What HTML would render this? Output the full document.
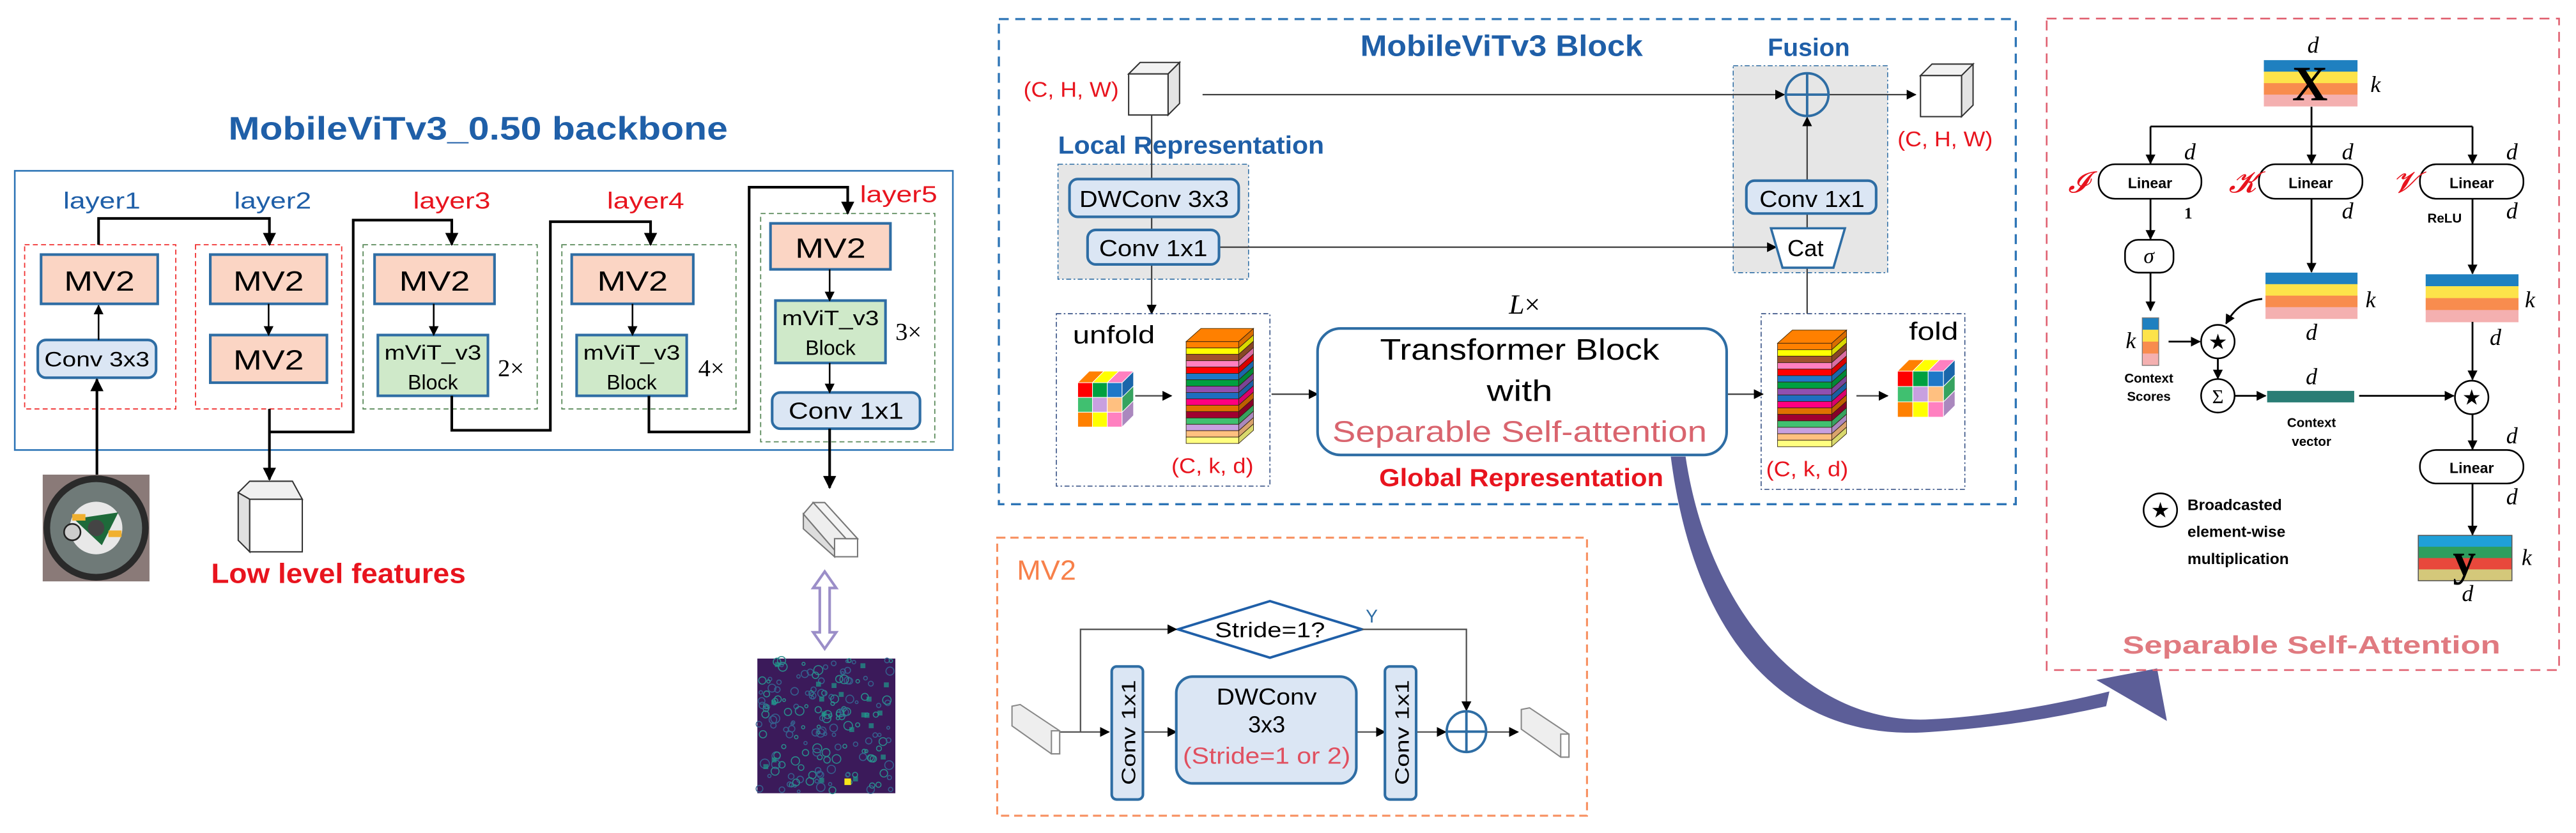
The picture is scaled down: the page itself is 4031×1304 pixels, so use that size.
<!DOCTYPE html>
<html><head><meta charset="utf-8"><style>
html,body{margin:0;padding:0;background:#fff;}
svg{display:block;}
</style></head><body>
<svg id="sv" width="4031" height="1304" viewBox="0 0 1568 507.2" xmlns="http://www.w3.org/2000/svg" font-family="Liberation Sans, sans-serif">
<defs>
<marker id="ah" viewBox="0 0 10 10" refX="9" refY="5" markerWidth="6" markerHeight="6" markerUnits="userSpaceOnUse" orient="auto"><path d="M0,0L10,5L0,10z" fill="#000"/></marker>
<marker id="ah2" viewBox="0 0 10 10" refX="9" refY="5" markerWidth="8" markerHeight="8" markerUnits="userSpaceOnUse" orient="auto"><path d="M0,0L10,5L0,10z" fill="#000"/></marker>
</defs>
<rect width="1568" height="508" fill="#fff"/>

<!-- ============ LEFT: backbone ============ -->
<text x="291" y="85" font-size="20" font-weight="bold" fill="#1f5fa8" text-anchor="middle" textLength="304" lengthAdjust="spacingAndGlyphs">MobileViTv3_0.50 backbone</text>
<rect x="9" y="104" width="571" height="170" fill="none" stroke="#2e75b6" stroke-width="1"/>
<g font-size="14" text-anchor="middle">
<text x="62" y="127" fill="#1f5fa8" textLength="47" lengthAdjust="spacingAndGlyphs">layer1</text>
<text x="166" y="127" fill="#1f5fa8" textLength="47" lengthAdjust="spacingAndGlyphs">layer2</text>
<text x="275" y="127" fill="#e8141e" textLength="47" lengthAdjust="spacingAndGlyphs">layer3</text>
<text x="393" y="127" fill="#e8141e" textLength="47" lengthAdjust="spacingAndGlyphs">layer4</text>
<text x="547" y="123" fill="#e8141e" textLength="47" lengthAdjust="spacingAndGlyphs">layer5</text>
</g>
<g fill="none" stroke-width="0.7" stroke-dasharray="3,2">
<rect x="15" y="149" width="92" height="100" stroke="#f03030"/>
<rect x="119" y="149" width="89" height="100" stroke="#f03030"/>
<rect x="221" y="149" width="106" height="100" stroke="#5a8a5a"/>
<rect x="342" y="149" width="106" height="100" stroke="#5a8a5a"/>
<rect x="463" y="130" width="106" height="139" stroke="#5a8a5a"/>
</g>
<g stroke="#2e6da4" stroke-width="1.6">
<rect x="25" y="155" width="71" height="30" fill="#fbd5c4"/>
<rect x="128" y="155" width="71" height="30" fill="#fbd5c4"/>
<rect x="128" y="204" width="71" height="29" fill="#fbd5c4"/>
<rect x="228" y="155" width="73" height="30" fill="#fbd5c4"/>
<rect x="348" y="155" width="74" height="30" fill="#fbd5c4"/>
<rect x="469" y="136" width="73" height="28" fill="#fbd5c4"/>
<rect x="230" y="204" width="67" height="37" fill="#cfe9c9"/>
<rect x="351" y="204" width="67" height="37" fill="#cfe9c9"/>
<rect x="472" y="183" width="67" height="38" fill="#cfe9c9"/>
<rect x="23" y="207" width="72" height="23" rx="5" fill="#dbe6f4"/>
<rect x="470" y="239" width="90" height="22" rx="5" fill="#dbe6f4"/>
</g>
<g font-size="17" text-anchor="middle" fill="#000">
<text x="60.5" y="177" textLength="43" lengthAdjust="spacingAndGlyphs">MV2</text>
<text x="163.5" y="177" textLength="43" lengthAdjust="spacingAndGlyphs">MV2</text>
<text x="163.5" y="225" textLength="43" lengthAdjust="spacingAndGlyphs">MV2</text>
<text x="264.5" y="177" textLength="43" lengthAdjust="spacingAndGlyphs">MV2</text>
<text x="385" y="177" textLength="43" lengthAdjust="spacingAndGlyphs">MV2</text>
<text x="505.5" y="157" textLength="43" lengthAdjust="spacingAndGlyphs">MV2</text>
</g>
<g font-size="12.5" text-anchor="middle" fill="#000">
<text x="59" y="223" textLength="64" lengthAdjust="spacingAndGlyphs">Conv 3x3</text>
<text x="515" y="255" font-size="14" textLength="70" lengthAdjust="spacingAndGlyphs">Conv 1x1</text>
<text x="263.5" y="219" textLength="59" lengthAdjust="spacingAndGlyphs">mViT_v3</text>
<text x="263.5" y="237">Block</text>
<text x="384.5" y="219" textLength="59" lengthAdjust="spacingAndGlyphs">mViT_v3</text>
<text x="384.5" y="237">Block</text>
<text x="505.5" y="198" textLength="59" lengthAdjust="spacingAndGlyphs">mViT_v3</text>
<text x="505.5" y="216">Block</text>
</g>
<g font-size="15" fill="#000" font-family="Liberation Serif, serif">
<text x="303" y="229">2×</text>
<text x="425" y="229">4×</text>
<text x="545" y="207">3×</text>
</g>
<!-- internal arrows -->
<g stroke="#000" stroke-width="1" marker-end="url(#ah)">
<line x1="60" y1="207" x2="60" y2="186"/>
<line x1="163.5" y1="185" x2="163.5" y2="204"/>
<line x1="264" y1="185" x2="264" y2="204"/>
<line x1="385" y1="185" x2="385" y2="204"/>
<line x1="505" y1="164" x2="505" y2="183"/>
<line x1="505" y1="221" x2="505" y2="239"/>
</g>
<g stroke="#000" stroke-width="1.6" fill="none" marker-end="url(#ah2)">
<line x1="59" y1="289" x2="59" y2="231"/>
<polyline points="60,149 60,133 164,133 164,149"/>
<polyline points="164,263 215,263 215,134 275,134 275,149"/>
<line x1="164" y1="249" x2="164" y2="292"/>
<polyline points="275,241 275,262 335,262 335,135 396,135 396,149"/>
<polyline points="395,241 395,263 456,263 456,114 516,114 516,130"/>
<line x1="505" y1="261" x2="505" y2="297"/>
</g>
<!-- photo -->
<rect x="26" y="289" width="65" height="65" fill="#8a7a78"/>
<circle cx="58.5" cy="321.5" r="32" fill="#2a2a2a"/>
<circle cx="58.5" cy="321.5" r="28" fill="#6f7a78"/>
<circle cx="58.5" cy="321.5" r="16" fill="#e8e8e8"/>
<path d="M45,316 L72,312 L62,332 Z" fill="#1e6a3a"/>
<rect x="44" y="313" width="8" height="4" fill="#f0b030"/>
<rect x="66" y="323" width="8" height="4" fill="#f0b030"/>
<circle cx="58.5" cy="321.5" r="5" fill="#444"/>
<circle cx="44" cy="324" r="5" fill="#ccc" stroke="#222" stroke-width="1"/>
<!-- low-level cube -->
<g stroke="#333" stroke-width="0.8" fill="#fff">
<polygon points="145,300 152,293 178,293 184,304 152,304" fill="#f0f0f0"/>
<polygon points="145,300 152,304 152,336 145,329" fill="#e0e0e0"/>
<rect x="152" y="304" width="32" height="32" fill="#fff"/>
</g>
<text x="206" y="355" font-size="17" font-weight="bold" fill="#e8141e" text-anchor="middle" textLength="155" lengthAdjust="spacingAndGlyphs">Low level features</text>
<!-- layer5 output prism -->
<g stroke="#777" stroke-width="0.8">
<polygon points="489,313 495,306 515,328 508,335" fill="#eee"/>
<polygon points="489,313 508,335 508,339 489,322" fill="#ddd"/>
<rect x="508" y="328" width="14" height="11" fill="#fff"/>
<polygon points="495,306 502,306 522,328 515,328" fill="#f5f5f5"/>
</g>
<!-- double arrow -->
<path d="M502,348 L509,358 L505,358 L505,385 L509,385 L502,395 L495,385 L499,385 L499,358 L495,358 Z" fill="#fff" stroke="#9b8ec8" stroke-width="1.6"/>
<!-- heatmap -->
<rect x="461" y="401" width="84" height="82" fill="#3b1a5a"/>
<g id="heat"></g>
<rect x="514" y="474" width="4" height="4" fill="#f8e51a"/>

<!-- ============ MIDDLE: MobileViTv3 Block ============ -->
<rect x="608" y="11.6" width="619" height="295.4" fill="none" stroke="#2e75b6" stroke-width="1.3" stroke-dasharray="6,4"/>
<text x="914" y="34" font-size="18" font-weight="bold" fill="#1f5fa8" text-anchor="middle" textLength="172" lengthAdjust="spacingAndGlyphs">MobileViTv3 Block</text>
<text x="1101" y="34" font-size="15" font-weight="bold" fill="#1f5fa8" text-anchor="middle" textLength="50" lengthAdjust="spacingAndGlyphs">Fusion</text>
<text x="652" y="59" font-size="13" fill="#e8141e" text-anchor="middle" textLength="58" lengthAdjust="spacingAndGlyphs">(C, H, W)</text>
<text x="1184" y="89" font-size="13" fill="#e8141e" text-anchor="middle" textLength="58" lengthAdjust="spacingAndGlyphs">(C, H, W)</text>
<text x="725" y="93.5" font-size="15" font-weight="bold" fill="#1f5fa8" text-anchor="middle" textLength="162" lengthAdjust="spacingAndGlyphs">Local Representation</text>
<rect x="644" y="100" width="116" height="70" fill="#e6e6e6" stroke="#2e6da4" stroke-width="0.6" stroke-dasharray="3,1.5,1,1.5"/>
<rect x="1055" y="40" width="94" height="126" fill="#e6e6e6" stroke="#2e6da4" stroke-width="0.6" stroke-dasharray="3,1.5,1,1.5"/>
<g stroke="#333" stroke-width="0.8">
<polygon points="687,45 694,38 718,38 711,45" fill="#f2f2f2"/>
<polygon points="711,45 718,38 718,63 711,70" fill="#e4e4e4"/>
<rect x="687" y="45" width="24" height="25" fill="#fff"/>
<polygon points="1169,46 1176,39 1201,39 1194,46" fill="#f2f2f2"/>
<polygon points="1194,46 1201,39 1201,64 1194,71" fill="#e4e4e4"/>
<rect x="1169" y="46" width="25" height="25" fill="#fff"/>
</g>
<g stroke="#444" stroke-width="0.9" fill="none">
<line x1="732" y1="57.6" x2="1086" y2="57.6" marker-end="url(#ah)"/>
<line x1="1113" y1="57.6" x2="1166" y2="57.6" marker-end="url(#ah)"/>
<line x1="701" y1="70" x2="701" y2="191" marker-end="url(#ah)"/>
<line x1="742" y1="150.5" x2="1081" y2="150.5" marker-end="url(#ah)"/>
<line x1="1100" y1="110" x2="1100" y2="71.5" marker-end="url(#ah)"/>
<line x1="1100" y1="130" x2="1100" y2="139"/>
<line x1="1100" y1="163" x2="1100" y2="191"/>
</g>
<circle cx="1100" cy="57.6" r="13" fill="none" stroke="#2e6da4" stroke-width="1.5"/>
<line x1="1087" y1="57.6" x2="1113" y2="57.6" stroke="#2e6da4" stroke-width="1.5"/>
<line x1="1100" y1="44.6" x2="1100" y2="70.6" stroke="#2e6da4" stroke-width="1.5"/>
<g stroke="#2e6da4" stroke-width="1.6" fill="#dbe6f4">
<rect x="651" y="109" width="103" height="23" rx="5"/>
<rect x="662" y="140" width="80" height="21" rx="5"/>
<rect x="1063" y="110" width="79" height="20" rx="5"/>
</g>
<polygon points="1078,139 1123,139 1116,163 1085,163" fill="#fff" stroke="#2e6da4" stroke-width="1.4"/>
<g font-size="14" fill="#000" text-anchor="middle">
<text x="702.5" y="126" textLength="91" lengthAdjust="spacingAndGlyphs">DWConv 3x3</text>
<text x="702" y="156" textLength="66" lengthAdjust="spacingAndGlyphs">Conv 1x1</text>
<text x="1103" y="126" textLength="64" lengthAdjust="spacingAndGlyphs">Conv 1x1</text>
<text x="1099" y="156" textLength="22" lengthAdjust="spacingAndGlyphs">Cat</text>
</g>
<rect x="643" y="191" width="130" height="105" fill="none" stroke="#2e4a80" stroke-width="0.6" stroke-dasharray="3,1.5,1,1.5"/>
<rect x="1072" y="191" width="124" height="107" fill="none" stroke="#2e4a80" stroke-width="0.6" stroke-dasharray="3,1.5,1,1.5"/>
<text x="678" y="209" font-size="15" text-anchor="middle" textLength="50" lengthAdjust="spacingAndGlyphs">unfold</text>
<text x="1177" y="207" font-size="15" text-anchor="middle" textLength="30" lengthAdjust="spacingAndGlyphs">fold</text>
<text x="738" y="288" font-size="13" fill="#e8141e" text-anchor="middle" textLength="50" lengthAdjust="spacingAndGlyphs">(C, k, d)</text>
<text x="1100" y="290" font-size="13" fill="#e8141e" text-anchor="middle" textLength="50" lengthAdjust="spacingAndGlyphs">(C, k, d)</text>
<g id="stacks"></g>
<g stroke="#444" stroke-width="0.9">
<line x1="691" y1="241" x2="713" y2="241" marker-end="url(#ah)"/>
<line x1="774" y1="240" x2="802" y2="240" marker-end="url(#ah)"/>
<line x1="1051" y1="240" x2="1073" y2="240" marker-end="url(#ah)"/>
<line x1="1130" y1="241" x2="1149" y2="241" marker-end="url(#ah)"/>
</g>
<rect x="802" y="200" width="249" height="77" rx="14" fill="#fff" stroke="#2e6da4" stroke-width="1.6"/>
<text x="925" y="219" font-size="18" text-anchor="middle" textLength="170" lengthAdjust="spacingAndGlyphs">Transformer Block</text>
<text x="925" y="244" font-size="18" text-anchor="middle" textLength="40" lengthAdjust="spacingAndGlyphs">with</text>
<text x="925" y="269" font-size="18" fill="#d9646e" text-anchor="middle" textLength="228" lengthAdjust="spacingAndGlyphs">Separable Self-attention</text>
<text x="928" y="191" font-size="17" font-family="Liberation Serif, serif" text-anchor="middle"><tspan font-style="italic">L</tspan>×</text>
<text x="926" y="296" font-size="15" font-weight="bold" fill="#e8141e" text-anchor="middle" textLength="173" lengthAdjust="spacingAndGlyphs">Global Representation</text>

<!-- big curved arrow -->
<path d="M1017,278 C1030,380 1080,450 1170,446 C1220,443 1255,436 1282,430 L1284,421 C1255,428 1215,436 1175,438 C1100,442 1040,372 1026,278 Z" fill="#5c5e98"/>
<polygon points="1276,414 1313,407 1319,439" fill="#5c5e98"/>

<!-- ============ MV2 panel ============ -->
<rect x="607" y="327.4" width="359" height="169.3" fill="none" stroke="#f79060" stroke-width="1.2" stroke-dasharray="5,3"/>
<text x="619" y="353" font-size="17" fill="#f7804a" textLength="36" lengthAdjust="spacingAndGlyphs">MV2</text>
<polygon points="717,383.2 773,366 829,383.2 773,400.5" fill="#fff" stroke="#1f5fa8" stroke-width="1.5"/>
<text x="773" y="388" font-size="13" text-anchor="middle" textLength="67" lengthAdjust="spacingAndGlyphs">Stride=1?</text>
<text x="835" y="379" font-size="11" fill="#2e6da4" text-anchor="middle">Y</text>
<g stroke="#555" stroke-width="0.9" fill="none">
<polyline points="645,445.7 675,445.7" marker-end="url(#ah)"/>
<polyline points="657.7,445.7 657.7,383.2 716,383.2" marker-end="url(#ah)"/>
<polyline points="829,383.2 892.6,383.2 892.6,432.5" marker-end="url(#ah)"/>
<line x1="696" y1="445.7" x2="716" y2="445.7" marker-end="url(#ah)"/>
<line x1="826" y1="445.7" x2="843" y2="445.7" marker-end="url(#ah)"/>
<line x1="862" y1="445.7" x2="880" y2="445.7" marker-end="url(#ah)"/>
<line x1="905" y1="445.7" x2="924" y2="445.7" marker-end="url(#ah)"/>
</g>
<g stroke="#2e6da4" stroke-width="1.6" fill="#dbe6f4">
<rect x="676.7" y="405.8" width="19" height="81" rx="3"/>
<rect x="843" y="405.8" width="19" height="81" rx="3"/>
<rect x="716" y="412" width="109.6" height="65" rx="10"/>
</g>
<text transform="translate(691,446) rotate(-90)" font-size="12" text-anchor="middle" textLength="64" lengthAdjust="spacingAndGlyphs">Conv 1x1</text>
<text transform="translate(857.5,446) rotate(-90)" font-size="12" text-anchor="middle" textLength="64" lengthAdjust="spacingAndGlyphs">Conv 1x1</text>
<text x="771" y="429" font-size="14" text-anchor="middle" textLength="61" lengthAdjust="spacingAndGlyphs">DWConv</text>
<text x="771" y="446" font-size="14" text-anchor="middle">3x3</text>
<text x="771" y="465" font-size="14" fill="#e05060" text-anchor="middle" textLength="102" lengthAdjust="spacingAndGlyphs">(Stride=1 or 2)</text>
<ellipse cx="892.6" cy="445.5" rx="12" ry="12.4" fill="#fff" stroke="#2e6da4" stroke-width="1.5"/>
<line x1="880.6" y1="445.5" x2="904.6" y2="445.5" stroke="#2e6da4" stroke-width="1.5"/>
<line x1="892.6" y1="433" x2="892.6" y2="458" stroke="#2e6da4" stroke-width="1.5"/>
<g stroke="#888" stroke-width="0.8">
<polygon points="616,430 621,429 645,445 645,459 640,459 616,442" fill="#eee"/>
<rect x="640" y="445" width="5" height="14" fill="#fff"/>
<polygon points="926,432 931,431 955,447 955,461 950,461 926,444" fill="#eee"/>
<rect x="950" y="447" width="5" height="14" fill="#fff"/>
</g>

<!-- ============ RIGHT: Separable Self-Attention ============ -->
<rect x="1245.8" y="11.3" width="311.9" height="396.7" fill="none" stroke="#e06070" stroke-width="1" stroke-dasharray="6,4"/>
<g id="ssa"></g>
<g stroke="#000" stroke-width="1.1" fill="none">
<line x1="1407" y1="65" x2="1407" y2="77"/>
<line x1="1309" y1="77" x2="1505" y2="77"/>
<line x1="1309" y1="77" x2="1309" y2="99.5" marker-end="url(#ah)"/>
<line x1="1407" y1="77" x2="1407" y2="99.5" marker-end="url(#ah)"/>
<line x1="1505" y1="77" x2="1505" y2="99.5" marker-end="url(#ah)"/>
<line x1="1309" y1="121" x2="1309" y2="145.5" marker-end="url(#ah)"/>
<line x1="1309" y1="166" x2="1309" y2="189" marker-end="url(#ah)"/>
<line x1="1407" y1="121" x2="1407" y2="165.5" marker-end="url(#ah)"/>
<line x1="1505" y1="121" x2="1505" y2="166.5" marker-end="url(#ah)"/>
<line x1="1320" y1="208" x2="1339" y2="208" marker-end="url(#ah)"/>
<path d="M1377,182 C1366,183 1360,188 1355,197" marker-end="url(#ah)"/>
<line x1="1350" y1="218" x2="1350" y2="230.5" marker-end="url(#ah)"/>
<line x1="1360" y1="241" x2="1379" y2="241" marker-end="url(#ah)"/>
<line x1="1436" y1="241" x2="1493.5" y2="241" marker-end="url(#ah)"/>
<line x1="1505" y1="196" x2="1505" y2="231" marker-end="url(#ah)"/>
<line x1="1505" y1="252" x2="1505" y2="273.5" marker-end="url(#ah)"/>
<line x1="1505" y1="294.4" x2="1505" y2="325.5" marker-end="url(#ah)"/>
</g>
<g fill="#fff" stroke="#000" stroke-width="1">
<rect x="1277.4" y="100" width="62.6" height="21" rx="10"/>
<rect x="1375" y="100" width="63" height="21" rx="10"/>
<rect x="1473" y="100" width="63" height="21" rx="10"/>
<rect x="1473" y="274" width="63" height="20.4" rx="10"/>
<rect x="1293.5" y="146" width="29.5" height="20" rx="8"/>
<circle cx="1350" cy="208" r="10.2"/>
<circle cx="1350" cy="241" r="10.2"/>
<circle cx="1504.5" cy="242" r="10.2"/>
<circle cx="1315" cy="310.6" r="10.2"/>
</g>
<g font-size="9" font-weight="bold" text-anchor="middle" fill="#000">
<text x="1308.7" y="114.5">Linear</text>
<text x="1406.5" y="114.5">Linear</text>
<text x="1504.5" y="114.5">Linear</text>
<text x="1504.5" y="288">Linear</text>
<text x="1488" y="135.5" font-size="8">ReLU</text>
<text x="1308" y="233" font-size="8">Context</text>
<text x="1308" y="244" font-size="8">Scores</text>
<text x="1407" y="260" font-size="8">Context</text>
<text x="1407" y="271.5" font-size="8">vector</text>
</g>
<g font-size="9.5" font-weight="bold" fill="#000">
<text x="1331.5" y="310.5">Broadcasted</text>
<text x="1331.5" y="327">element-wise</text>
<text x="1331.5" y="343.5">multiplication</text>
</g>
<g font-size="13" text-anchor="middle" fill="#000">
<text x="1350" y="212.5">★</text>
<text x="1504.5" y="246.5">★</text>
<text x="1315" y="315">★</text>
<text x="1350" y="245.5" font-family="Liberation Serif, serif" font-size="12">Σ</text>
<text x="1308" y="160" font-family="Liberation Serif, serif" font-style="italic" font-size="13">σ</text>
</g>
<g font-family="Liberation Serif, serif" font-style="italic" font-size="14" fill="#000" text-anchor="middle">
<text x="1408" y="32">d</text>
<text x="1446" y="56">k</text>
<text x="1333" y="97">d</text><text x="1429" y="97">d</text><text x="1529" y="97">d</text>
<text x="1429" y="133">d</text><text x="1529" y="133">d</text>
<text x="1332" y="133" style="font-style:normal;font-weight:bold" font-size="10">1</text>
<text x="1443" y="187">k</text>
<text x="1407" y="207">d</text>
<text x="1297" y="212">k</text>
<text x="1407" y="234">d</text>
<text x="1540" y="187">k</text>
<text x="1519" y="210">d</text>
<text x="1529" y="270">d</text>
<text x="1529" y="307">d</text>
<text x="1538" y="344">k</text>
<text x="1502" y="366">d</text>
</g>
<g font-family="Liberation Serif, serif" font-style="italic" font-size="18" fill="#e8141e" text-anchor="middle">
<text x="1265" y="117">𝓘</text>
<text x="1365" y="117">𝓚</text>
<text x="1464" y="117">𝓥</text>
</g>
<text x="1407" y="398" font-size="15" font-weight="bold" fill="#e07a80" text-anchor="middle" textLength="230" lengthAdjust="spacingAndGlyphs">Separable Self-Attention</text>
</svg>
<script>
(function(){
var NS="http://www.w3.org/2000/svg";
function el(p,t,a){var e=document.createElementNS(NS,t);for(var k in a)e.setAttribute(k,a[k]);p.appendChild(e);return e;}
function shade(c,f){var r=parseInt(c.substr(1,2),16),g=parseInt(c.substr(3,2),16),b=parseInt(c.substr(5,2),16);return "rgb("+Math.round(r*f)+","+Math.round(g*f)+","+Math.round(b*f)+")";}
var st=document.getElementById("stacks");
var cols=["#ff8000","#ffff00","#a0522d","#ff80c0","#ff0000","#1e78c8","#00a040","#9050b0","#1e6ec0","#ff0080","#e07000","#a00030","#40c070","#c8a0e0","#ffc080","#ffff80"];
function stack(x,y,w,h,dx,dy){
  el(st,"polygon",{points:x+","+y+" "+(x+dx)+","+(y+dy)+" "+(x+w+dx)+","+(y+dy)+" "+(x+w)+","+y,fill:"#ff8000",stroke:"#553300","stroke-width":0.4});
  var n=cols.length,sh=h/n;
  for(var i=0;i<n;i++){var yy=y+i*sh;
    el(st,"rect",{x:x,y:yy,width:w,height:sh,fill:cols[i],stroke:"#332211","stroke-width":0.35});
    el(st,"polygon",{points:(x+w)+","+yy+" "+(x+w+dx)+","+(yy+dy)+" "+(x+w+dx)+","+(yy+dy+sh)+" "+(x+w)+","+(yy+sh),fill:shade(cols[i],0.85),stroke:"#332211","stroke-width":0.35});
  }
}
stack(722,208,32,62,9,-8);
stack(1082,209,33,63,9,-8);
var g9=["#ff8000","#ffff00","#ff80c0","#ff0000","#00a040","#1e78c8","#40c070","#c8a0e0","#ffc080"];
function cube(x,y,s,d){
  var c=s/3;
  for(var i=0;i<3;i++){
    el(st,"polygon",{points:(x+i*c)+","+y+" "+(x+i*c+d)+","+(y-d)+" "+(x+(i+1)*c+d)+","+(y-d)+" "+(x+(i+1)*c)+","+y,fill:g9[i],stroke:"#fff","stroke-width":0.4});
    for(var j=0;j<3;j++) el(st,"rect",{x:x+j*c,y:y+i*c,width:c,height:c,fill:g9[(i*3+j+3)%9],stroke:"#fff","stroke-width":0.4});
    el(st,"polygon",{points:(x+s)+","+(y+i*c)+" "+(x+s+d)+","+(y+i*c-d)+" "+(x+s+d)+","+(y+(i+1)*c-d)+" "+(x+s)+","+(y+(i+1)*c),fill:shade(g9[(i+5)%9],0.85),stroke:"#fff","stroke-width":0.4});
  }
}
cube(656,233,27,7);
cube(1155,226,28,7);
var h=document.getElementById("heat");var seed=7;function rnd(){seed=(seed*9301+49297)%233280;return seed/233280;}
for(var i=0;i<170;i++){var cx=462+rnd()*82,cy=402+rnd()*80,r=0.8+rnd()*2;
 el(h,"circle",{cx:cx,cy:cy,r:r,fill:"none",stroke:rnd()>0.5?"#2a8c8c":"#35608e","stroke-width":0.6});}
for(var i=0;i<20;i++){el(h,"rect",{x:462+rnd()*78,y:402+rnd()*76,width:3,height:3,fill:"#1f9a8a",opacity:0.7});}
var s=document.getElementById("ssa");
function bars(x,y,w,h,c){var n=c.length,bh=h/n;for(var i=0;i<n;i++)el(s,"rect",{x:x,y:y+i*bh,width:w,height:bh+0.2,fill:c[i]});}
var q=["#1f80c0","#fde34a","#f88c4e","#f4b0b0"];
bars(1378,36.6,57,28,q);
bars(1379,166,56,28,q);
bars(1476.5,167,56.5,29,q);
bars(1304,193.5,10,29,q);
el(s,"rect",{x:1304,y:193.5,width:10,height:29,fill:"none",stroke:"#777","stroke-width":0.5});
bars(1472,326,57,27.6,["#1fa0d8","#2e9e5e","#e8483c","#d4c87a"]);
el(s,"rect",{x:1472,y:326,width:57,height:27.6,fill:"none",stroke:"#555","stroke-width":0.6});
el(s,"rect",{x:1380,y:238,width:53,height:7,fill:"#2a7d75"});
var t=el(s,"text",{x:1406,y:61,"font-size":30,"font-weight":"bold","font-family":"Liberation Serif, serif","text-anchor":"middle"});t.textContent="X";
var t2=el(s,"text",{x:1500,y:350,"font-size":28,"font-weight":"bold","font-family":"Liberation Serif, serif","text-anchor":"middle"});t2.textContent="y";
})();
</script>
</body></html>
